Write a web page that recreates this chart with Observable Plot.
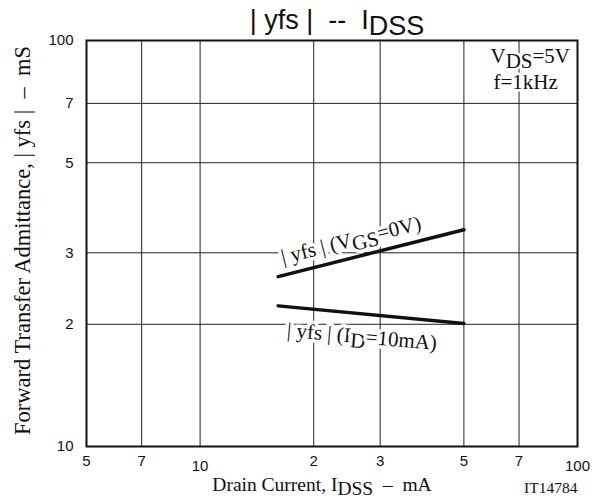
<!DOCTYPE html>
<html>
<head>
<meta charset="utf-8">
<script src="https://cdn.jsdelivr.net/npm/d3@7"></script>
<script src="https://cdn.jsdelivr.net/npm/@observablehq/plot@0.6"></script>
<style>
  html, body { margin: 0; padding: 0; background: white; }
</style>
</head>
<body>
<div id="chart"></div>
<script>
// ---- data ----
const xTicks = [5, 7, 10, 20, 30, 50, 70, 100];
const xTickLabels = ["5", "7", "10", "2", "3", "5", "7", "100"];
const yTicks = [10, 20, 30, 50, 70, 100];
const yTickLabels = ["10", "2", "3", "5", "7", "100"];
const xGrid = [7, 10, 20, 30, 50, 70];
const yGrid = [20, 30, 50, 70];

const idss = [16.1, 50];                 // Drain current IDSS, mA
const yfsVgs0 = [26.2, 34.2];            // |yfs| (VGS=0V), mS
const yfsId10 = [22.2, 20.1];            // |yfs| (ID=10mA), mS

const titleText = "| yfs |  --  I_{DSS}";
const xLabel = "Drain Current, I_{DSS}  –  mA";
const yLabel = "Forward Transfer Admittance, | yfs |  –  mS";
const condLine1 = "V_{DS}=5V";
const condLine2 = "f=1kHz";
const figId = "IT14784";
const labelVgs0 = "| yfs | (V_{GS}=0V)";
const labelId10 = "| yfs | (I_{D}=10mA)";

const seriesVgs0 = idss.map((x, i) => ({x, y: yfsVgs0[i]}));
const seriesId10 = idss.map((x, i) => ({x, y: yfsId10[i]}));
const gm = a => Math.sqrt(a[0] * a[1]);
const xTickRows = xTicks.map((v, i) => ({v, label: xTickLabels[i], decade: Number.isInteger(Math.log10(v))}));
const yTickRows = yTicks.map((v, i) => ({v, label: yTickLabels[i]}));

const serif = "Liberation Serif, Times New Roman, serif";
const sans = "Liberation Sans, Arial, sans-serif";

const plot = Plot.plot({
  width: 601,
  height: 503,
  marginLeft: 86,
  marginRight: 24,
  marginTop: 40,
  marginBottom: 57,
  style: {fontFamily: sans, fontSize: "15px", background: "white", color: "black"},
  x: {type: "log", domain: [5, 100], axis: null},
  y: {type: "log", domain: [10, 100], axis: null},
  marks: [
    Plot.ruleX(xGrid, {stroke: "#222", strokeWidth: 1}),
    Plot.ruleY(yGrid, {stroke: "#222", strokeWidth: 1}),
    Plot.frame({stroke: "#111", strokeWidth: 2}),
    // x tick labels
    Plot.text(xTickRows.filter(d => !d.decade), {x: "v", text: "label", frameAnchor: "bottom",
      lineAnchor: "middle", dy: 15, fontSize: 15, fill: "#111"}),
    Plot.text(xTickRows.filter(d => d.decade), {x: "v", text: "label", frameAnchor: "bottom",
      lineAnchor: "middle", dy: 20, fontSize: 15, fill: "#111"}),
    // y tick labels
    Plot.text(yTickRows, {y: "v", text: "label", frameAnchor: "left", textAnchor: "end",
      dx: -13, fontSize: 15, fill: "#111"}),
    Plot.line(seriesVgs0, {x: "x", y: "y", stroke: "#111", strokeWidth: 3.5}),
    Plot.line(seriesId10, {x: "x", y: "y", stroke: "#111", strokeWidth: 3.5}),
    Plot.text([labelVgs0], {x: gm(idss), y: gm(yfsVgs0), text: d => d, rotate: -14,
      dx: -20, dy: -13, fontFamily: serif, fontSize: 21, fill: "#111",
      stroke: "white", strokeWidth: 7}),
    Plot.text([labelId10], {x: gm(idss), y: gm(yfsId10), text: d => d, rotate: 5,
      dx: -9, dy: 22, fontFamily: serif, fontSize: 21, fill: "#111",
      stroke: "white", strokeWidth: 7}),
    Plot.text([condLine2], {frameAnchor: "top-right", text: d => d, textAnchor: "start",
      dx: -84, dy: 34, fontFamily: serif, fontSize: 21, stroke: "white", strokeWidth: 5, fill: "#111"}),
    Plot.text([condLine1], {frameAnchor: "top-right", text: d => d, textAnchor: "start",
      dx: -87, dy: 8, fontFamily: serif, fontSize: 21, stroke: "white", strokeWidth: 5, fill: "#111"}),
    Plot.text([titleText], {frameAnchor: "top", text: d => d, dx: 5, dy: -31,
      fontFamily: sans, fontSize: 27, fill: "#111"}),
    Plot.text([xLabel], {frameAnchor: "bottom", text: d => d, dx: -10, dy: 44,
      fontFamily: serif, fontSize: 19.5, fill: "#111"}),
    Plot.text([figId], {frameAnchor: "bottom-right", text: d => d, textAnchor: "end",
      dx: 0, dy: 46, fontFamily: serif, fontSize: 15.5, fill: "#111"}),
    Plot.text([yLabel], {frameAnchor: "left", text: d => d, rotate: -90, textAnchor: "middle",
      dx: -64, dy: -3, fontFamily: serif, fontSize: 22.5, fill: "#111"})
  ]
});

// subscripts: turn "_{...}" into shifted tspans
d3.select(plot).selectAll("text").each(function () {
  const t = this.textContent;
  if (!t.includes("_{")) return;
  const parts = t.split(/(_\{[^}]*\})/);
  this.textContent = "";
  let shifted = false;
  const sh = 0.22;
  for (const p of parts) {
    if (!p) continue;
    const m = p.match(/^_\{(.*)\}$/);
    const ts = d3.select(this).append("tspan");
    if (m) {
      ts.text(m[1]).attr("dy", sh + "em");
      shifted = true;
    } else {
      ts.text(p);
      if (shifted) { ts.attr("dy", -sh + "em"); shifted = false; }
    }
  }
});

document.getElementById("chart").appendChild(plot);
</script>
</body>
</html>
